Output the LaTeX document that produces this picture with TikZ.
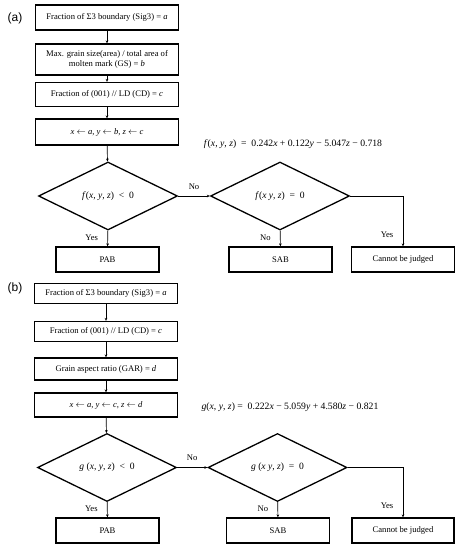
\documentclass[tikz,border=0pt]{standalone}
\usepackage{fontspec}
\setmainfont{Liberation Serif}
\newfontfamily\labfont{Liberation Sans}
\usetikzlibrary{shapes.geometric,arrows.meta}
\newcommand{\vi}[1]{\textit{#1}}
\begin{document}
\begin{tikzpicture}[x=1pt,y=-1pt,
  font=\fontsize{8.6}{10}\selectfont,
  boxnode/.style={draw,line width=1.3pt,rectangle,inner sep=1pt,align=center},
  decnode/.style={draw,line width=1.3pt,diamond,inner sep=0pt,minimum width=139pt,minimum height=68pt,font=\fontsize{9.6}{11}\selectfont},
  conn/.style={line width=0.7pt,-{Stealth[length=3pt,width=2.6pt]}},
  lab/.style={font=\fontsize{8.6}{10}\selectfont},
  eqn/.style={font=\fontsize{9.7}{11}\selectfont},
  panel/.style={font=\labfont\fontsize{12}{14}\selectfont}]
\useasboundingbox (0,0) rectangle (462,550);
% ---------- panel (a)
\node[panel] (pa) at (15,18) {(a)};
\node[boxnode,minimum width=143pt,minimum height=25pt] (a1) at (107,17.5) {Fraction of Σ3 boundary (Sig3) = \vi{a}};
\node[boxnode,minimum width=143pt,minimum height=31pt] (a2) at (107,59.5) {Max. grain size(area) / total area of\\molten mark (GS) = \vi{b}};
\node[boxnode,minimum width=143pt,minimum height=24pt] (a3) at (107,94.5) {Fraction of (001) // LD (CD) = \vi{c}};
\node[boxnode,minimum width=143pt,minimum height=26pt] (a4) at (107,132) {\vi{x} $\leftarrow$ \vi{a}, \vi{y} $\leftarrow$ \vi{b}, \vi{z} $\leftarrow$ \vi{c}};
\node[eqn] (fa) at (293,144) {\vi{f}(\vi{x}, \vi{y}, \vi{z})\ \ =\ \ 0.242\vi{x} + 0.122\vi{y} − 5.047\vi{z} − 0.718};
\node[decnode] (ad1) at (108,196) {\vi{f}(\vi{x}, \vi{y}, \vi{z})\ \ <\ \ 0};
\node[decnode] (ad2) at (280,196) {\vi{f}(\vi{x} \vi{y}, \vi{z})\ \ =\ \ 0};
\node[boxnode,minimum width=103pt,minimum height=25pt] (ap) at (107.5,259.5) {PAB};
\node[boxnode,minimum width=103pt,minimum height=25pt] (as) at (280.5,259.5) {SAB};
\node[boxnode,minimum width=103pt,minimum height=25pt] (ac) at (403,259.5) {Cannot be judged};
\draw[conn] (a1) -- (a2);
\draw[conn] (a2) -- (a3);
\draw[conn] (a3) -- (a4);
\draw[conn] (a4) -- (ad1);
\draw[conn] (ad1) -- node[lab,above=3pt] (an1) {No} (ad2);
\draw[conn] (ad1) -- node[lab,left=6pt,pos=0.45] (ay1) {Yes} (ap);
\draw[conn] (ad2) -- node[lab,left=6pt,pos=0.45] (an2) {No} (as);
\draw[conn] (ad2.east) -| node[lab,left=6pt,pos=0.88] (ay2) {Yes} (ac.north);
% ---------- panel (b)
\node[panel] (pb) at (15,288) {(b)};
\node[boxnode,minimum width=143pt,minimum height=20pt] (b1) at (106,293.5) {Fraction of Σ3 boundary (Sig3) = \vi{a}};
\node[boxnode,minimum width=143pt,minimum height=20pt] (b2) at (106,331.5) {Fraction of (001) // LD (CD) = \vi{c}};
\node[boxnode,minimum width=143pt,minimum height=22pt] (b3) at (106,369) {Grain aspect ratio (GAR) = \vi{d}};
\node[boxnode,minimum width=143pt,minimum height=24pt] (b4) at (106,405) {\vi{x} $\leftarrow$ \vi{a}, \vi{y} $\leftarrow$ \vi{c}, \vi{z} $\leftarrow$ \vi{d}};
\node[eqn] (fb) at (290,407) {\vi{g}(\vi{x}, \vi{y}, \vi{z}) =\ \ 0.222\vi{x} − 5.059\vi{y} + 4.580\vi{z} − 0.821};
\node[decnode] (bd1) at (107,467.5) {\vi{g}\ (\vi{x}, \vi{y}, \vi{z})\ \ <\ \ 0};
\node[decnode] (bd2) at (277.5,467.5) {\vi{g}\ (\vi{x} \vi{y}, \vi{z})\ \ =\ \ 0};
\node[boxnode,minimum width=103pt,minimum height=25pt] (bp) at (107.5,530.5) {PAB};
\node[boxnode,minimum width=103pt,minimum height=25pt] (bs) at (278,530.5) {SAB};
\node[boxnode,minimum width=102pt,minimum height=25pt] (bc) at (403,530.5) {Cannot be judged};
\draw[conn] (b1) -- (b2);
\draw[conn] (b2) -- (b3);
\draw[conn] (b3) -- (b4);
\draw[conn] (b4) -- (bd1);
\draw[conn] (bd1) -- node[lab,above=3pt] (bn1) {No} (bd2);
\draw[conn] (bd1) -- node[lab,left=6pt,pos=0.45] (by1) {Yes} (bp);
\draw[conn] (bd2) -- node[lab,left=6pt,pos=0.45] (bn2) {No} (bs);
\draw[conn] (bd2.east) -| node[lab,left=6pt,pos=0.88] (by2) {Yes} (bc.north);
\end{tikzpicture}
\end{document}
